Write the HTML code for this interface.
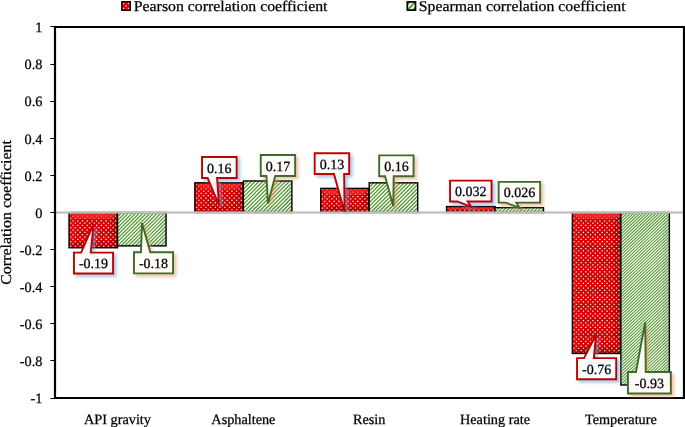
<!DOCTYPE html>
<html lang="en"><head><meta charset="utf-8"><title>Correlation coefficients</title>
<style>html,body{margin:0;padding:0;background:#fff}body{width:685px;height:427px;overflow:hidden}svg{display:block}text{font-family:"Liberation Serif","Times New Roman",Times,serif;fill:#000;stroke:#000;stroke-width:0.25px;font-variant-ligatures:none;text-rendering:geometricPrecision}</style>
</head><body>
<svg width="685" height="427" viewBox="0 0 685 427">
<defs>
<filter id="gb" x="-5%" y="-5%" width="110%" height="110%"><feGaussianBlur stdDeviation="0.3"/></filter>
<filter id="blur" x="-40%" y="-40%" width="180%" height="180%"><feGaussianBlur stdDeviation="1.5"/></filter>
</defs>
<rect width="685" height="427" fill="#fff"/>
<rect x="121.8" y="1.7" width="8.6" height="8.6" fill="#d60000" stroke="#000" stroke-width="1.3"/>
<g fill="#fff"><rect x="123" y="3" width="1.2" height="1.2"/><rect x="127.8" y="3" width="1.2" height="1.2"/><rect x="125.4" y="5.4" width="1.3" height="1.3"/><rect x="123" y="7.8" width="1.2" height="1.2"/><rect x="127.8" y="7.8" width="1.2" height="1.2"/></g>
<text transform="translate(133.8,11.1) scale(1.068,1)" font-size="14.8">Pearson correlation coefficient</text>
<clipPath id="lg"><rect x="407.3" y="1.9" width="8.2" height="8.2"/></clipPath>
<rect x="407.3" y="1.9" width="8.2" height="8.2" fill="#5a9f36"/>
<path clip-path="url(#lg)" d="M404.0,10.6 L416.0,-1.4 M406.8,13.4 L418.8,1.4" stroke="#fff" stroke-width="1.9"/>
<rect x="407.3" y="1.9" width="8.2" height="8.2" fill="none" stroke="#000" stroke-width="1.7"/>
<text transform="translate(418.8,11.1) scale(1.068,1)" font-size="14.8">Spearman correlation coefficient</text>
<text transform="translate(11.4,212.4) rotate(-90) scale(1.066,1)" text-anchor="middle" font-size="15">Correlation coefficient</text>
<text x="42.4" y="32.2" text-anchor="end" font-size="14.3">1</text>
<rect x="50.4" y="26" width="4" height="1" fill="#000"/>
<text x="42.4" y="69.3" text-anchor="end" font-size="14.3">0.8</text>
<rect x="50.4" y="64" width="4" height="1" fill="#000"/>
<text x="42.4" y="106.4" text-anchor="end" font-size="14.3">0.6</text>
<rect x="50.4" y="101" width="4" height="1" fill="#000"/>
<text x="42.4" y="143.5" text-anchor="end" font-size="14.3">0.4</text>
<rect x="50.4" y="138" width="4" height="1" fill="#000"/>
<text x="42.4" y="180.6" text-anchor="end" font-size="14.3">0.2</text>
<rect x="50.4" y="175" width="4" height="1" fill="#000"/>
<text x="42.4" y="217.7" text-anchor="end" font-size="14.3">0</text>
<rect x="50.4" y="212" width="4" height="1" fill="#000"/>
<text x="42.4" y="254.8" text-anchor="end" font-size="14.3">-0.2</text>
<rect x="50.4" y="249" width="4" height="1" fill="#000"/>
<text x="42.4" y="291.9" text-anchor="end" font-size="14.3">-0.4</text>
<rect x="50.4" y="286" width="4" height="1" fill="#000"/>
<text x="42.4" y="329.0" text-anchor="end" font-size="14.3">-0.6</text>
<rect x="50.4" y="323" width="4" height="1" fill="#000"/>
<text x="42.4" y="366.1" text-anchor="end" font-size="14.3">-0.8</text>
<rect x="50.4" y="360" width="4" height="1" fill="#000"/>
<text x="42.4" y="403.2" text-anchor="end" font-size="14.3">-1</text>
<rect x="50.4" y="398" width="4" height="1" fill="#000"/>
<clipPath id="c00"><rect x="69.05" y="212.50" width="48.5" height="35.25"/></clipPath>
<rect x="69.05" y="212.50" width="48.5" height="35.25" fill="#d60000"/>
<g clip-path="url(#c00)"><g stroke="#fff" stroke-width="1.25" stroke-dasharray="1.25 3.47" fill="none" filter="url(#gb)"><path d="M65.33,213.80H122.27" /><path d="M67.69,216.12H122.27" /><path d="M65.33,218.44H122.27" /><path d="M67.69,220.76H122.27" /><path d="M65.33,223.08H122.27" /><path d="M67.69,225.40H122.27" /><path d="M65.33,227.72H122.27" /><path d="M67.69,230.04H122.27" /><path d="M65.33,232.36H122.27" /><path d="M67.69,234.68H122.27" /><path d="M65.33,237.00H122.27" /><path d="M67.69,239.32H122.27" /><path d="M65.33,241.64H122.27" /><path d="M67.69,243.96H122.27" /><path d="M65.33,246.28H122.27" /><path d="M67.69,248.60H122.27" /></g></g>
<path d="M69.05,212.50 L117.55,212.50 L111.05,219.00 L75.55,219.00 Z" fill="#ff2a2a" fill-opacity="0.62"/>
<path d="M69.05,212.50 L75.55,219.00 L75.55,241.25 L69.05,247.75 Z" fill="#ff2a2a" fill-opacity="0.186"/>
<path d="M117.55,212.50 L111.05,219.00 L111.05,241.25 L117.55,247.75 Z" fill="#000" fill-opacity="0.12"/>
<path d="M69.05,247.75 L117.55,247.75 L111.05,241.25 L75.55,241.25 Z" fill="#000" fill-opacity="0.12"/>
<rect x="69.05" y="212.50" width="48.5" height="35.25" fill="none" stroke="#000" stroke-width="1.4"/>
<clipPath id="c01"><rect x="117.55" y="212.50" width="48.5" height="33.39"/></clipPath>
<rect x="117.55" y="212.50" width="48.5" height="33.39" fill="#fff"/>
<path clip-path="url(#c01)" d="M81.36,245.89l33.39,-33.39M84.96,245.89l33.39,-33.39M88.56,245.89l33.39,-33.39M92.16,245.89l33.39,-33.39M95.76,245.89l33.39,-33.39M99.36,245.89l33.39,-33.39M102.96,245.89l33.39,-33.39M106.56,245.89l33.39,-33.39M110.16,245.89l33.39,-33.39M113.76,245.89l33.39,-33.39M117.36,245.89l33.39,-33.39M120.96,245.89l33.39,-33.39M124.56,245.89l33.39,-33.39M128.16,245.89l33.39,-33.39M131.76,245.89l33.39,-33.39M135.36,245.89l33.39,-33.39M138.96,245.89l33.39,-33.39M142.56,245.89l33.39,-33.39M146.16,245.89l33.39,-33.39M149.76,245.89l33.39,-33.39M153.36,245.89l33.39,-33.39M156.96,245.89l33.39,-33.39M160.56,245.89l33.39,-33.39M164.16,245.89l33.39,-33.39M167.76,245.89l33.39,-33.39" stroke="#559b31" stroke-width="1.196" fill="none"/>
<path d="M117.55,212.50 L166.05,212.50 L159.55,219.00 L124.05,219.00 Z" fill="#ff2a2a" fill-opacity="0.0"/>
<path d="M117.55,212.50 L124.05,219.00 L124.05,239.39 L117.55,245.89 Z" fill="#ff2a2a" fill-opacity="0.0"/>
<path d="M166.05,212.50 L159.55,219.00 L159.55,239.39 L166.05,245.89 Z" fill="#000" fill-opacity="0.05"/>
<path d="M117.55,245.89 L166.05,245.89 L159.55,239.39 L124.05,239.39 Z" fill="#000" fill-opacity="0.05"/>
<rect x="117.55" y="212.50" width="48.5" height="33.39" fill="none" stroke="#000" stroke-width="1.4"/>
<clipPath id="c10"><rect x="194.88" y="182.82" width="48.5" height="29.68"/></clipPath>
<rect x="194.88" y="182.82" width="48.5" height="29.68" fill="#d60000"/>
<g clip-path="url(#c10)"><g stroke="#fff" stroke-width="1.25" stroke-dasharray="1.25 3.47" fill="none" filter="url(#gb)"><path d="M191.16,184.12H248.10" /><path d="M193.52,186.44H248.10" /><path d="M191.16,188.76H248.10" /><path d="M193.52,191.08H248.10" /><path d="M191.16,193.40H248.10" /><path d="M193.52,195.72H248.10" /><path d="M191.16,198.04H248.10" /><path d="M193.52,200.36H248.10" /><path d="M191.16,202.68H248.10" /><path d="M193.52,205.00H248.10" /><path d="M191.16,207.32H248.10" /><path d="M193.52,209.64H248.10" /><path d="M191.16,211.96H248.10" /></g></g>
<path d="M194.88,182.82 L243.38,182.82 L236.88,189.32 L201.38,189.32 Z" fill="#ff2a2a" fill-opacity="0.62"/>
<path d="M194.88,182.82 L201.38,189.32 L201.38,206.00 L194.88,212.50 Z" fill="#ff2a2a" fill-opacity="0.186"/>
<path d="M243.38,182.82 L236.88,189.32 L236.88,206.00 L243.38,212.50 Z" fill="#000" fill-opacity="0.12"/>
<path d="M194.88,212.50 L243.38,212.50 L236.88,206.00 L201.38,206.00 Z" fill="#000" fill-opacity="0.12"/>
<rect x="194.88" y="182.82" width="48.5" height="29.68" fill="none" stroke="#000" stroke-width="1.4"/>
<clipPath id="c11"><rect x="243.38" y="180.97" width="48.5" height="31.53"/></clipPath>
<rect x="243.38" y="180.97" width="48.5" height="31.53" fill="#fff"/>
<path clip-path="url(#c11)" d="M208.84,212.50l31.53,-31.53M212.65,212.50l31.53,-31.53M216.45,212.50l31.53,-31.53M220.25,212.50l31.53,-31.53M224.05,212.50l31.53,-31.53M227.85,212.50l31.53,-31.53M231.65,212.50l31.53,-31.53M235.45,212.50l31.53,-31.53M239.25,212.50l31.53,-31.53M243.05,212.50l31.53,-31.53M246.85,212.50l31.53,-31.53M250.65,212.50l31.53,-31.53M254.45,212.50l31.53,-31.53M258.25,212.50l31.53,-31.53M262.05,212.50l31.53,-31.53M265.85,212.50l31.53,-31.53M269.65,212.50l31.53,-31.53M273.45,212.50l31.53,-31.53M277.25,212.50l31.53,-31.53M281.05,212.50l31.53,-31.53M284.85,212.50l31.53,-31.53M288.65,212.50l31.53,-31.53M292.45,212.50l31.53,-31.53" stroke="#559b31" stroke-width="1.263" fill="none"/>
<path d="M243.38,180.97 L291.88,180.97 L285.38,187.47 L249.88,187.47 Z" fill="#ff2a2a" fill-opacity="0.0"/>
<path d="M243.38,180.97 L249.88,187.47 L249.88,206.00 L243.38,212.50 Z" fill="#ff2a2a" fill-opacity="0.0"/>
<path d="M291.88,180.97 L285.38,187.47 L285.38,206.00 L291.88,212.50 Z" fill="#000" fill-opacity="0.05"/>
<path d="M243.38,212.50 L291.88,212.50 L285.38,206.00 L249.88,206.00 Z" fill="#000" fill-opacity="0.05"/>
<rect x="243.38" y="180.97" width="48.5" height="31.53" fill="none" stroke="#000" stroke-width="1.4"/>
<clipPath id="c20"><rect x="320.71" y="188.38" width="48.5" height="24.12"/></clipPath>
<rect x="320.71" y="188.38" width="48.5" height="24.12" fill="#d60000"/>
<g clip-path="url(#c20)"><g stroke="#fff" stroke-width="1.25" stroke-dasharray="1.25 3.47" fill="none" filter="url(#gb)"><path d="M316.99,189.69H373.93" /><path d="M319.35,192.00H373.93" /><path d="M316.99,194.32H373.93" /><path d="M319.35,196.64H373.93" /><path d="M316.99,198.96H373.93" /><path d="M319.35,201.28H373.93" /><path d="M316.99,203.60H373.93" /><path d="M319.35,205.92H373.93" /><path d="M316.99,208.24H373.93" /><path d="M319.35,210.56H373.93" /><path d="M316.99,212.88H373.93" /></g></g>
<path d="M320.71,188.38 L369.21,188.38 L362.71,194.88 L327.21,194.88 Z" fill="#ff2a2a" fill-opacity="0.62"/>
<path d="M320.71,188.38 L327.21,194.88 L327.21,206.00 L320.71,212.50 Z" fill="#ff2a2a" fill-opacity="0.186"/>
<path d="M369.21,188.38 L362.71,194.88 L362.71,206.00 L369.21,212.50 Z" fill="#000" fill-opacity="0.12"/>
<path d="M320.71,212.50 L369.21,212.50 L362.71,206.00 L327.21,206.00 Z" fill="#000" fill-opacity="0.12"/>
<rect x="320.71" y="188.38" width="48.5" height="24.12" fill="none" stroke="#000" stroke-width="1.4"/>
<clipPath id="c21"><rect x="369.21" y="182.82" width="48.5" height="29.68"/></clipPath>
<rect x="369.21" y="182.82" width="48.5" height="29.68" fill="#fff"/>
<path clip-path="url(#c21)" d="M336.53,212.50l29.68,-29.68M340.33,212.50l29.68,-29.68M344.13,212.50l29.68,-29.68M347.93,212.50l29.68,-29.68M351.73,212.50l29.68,-29.68M355.53,212.50l29.68,-29.68M359.33,212.50l29.68,-29.68M363.13,212.50l29.68,-29.68M366.93,212.50l29.68,-29.68M370.73,212.50l29.68,-29.68M374.53,212.50l29.68,-29.68M378.33,212.50l29.68,-29.68M382.13,212.50l29.68,-29.68M385.93,212.50l29.68,-29.68M389.73,212.50l29.68,-29.68M393.53,212.50l29.68,-29.68M397.33,212.50l29.68,-29.68M401.13,212.50l29.68,-29.68M404.93,212.50l29.68,-29.68M408.73,212.50l29.68,-29.68M412.53,212.50l29.68,-29.68M416.33,212.50l29.68,-29.68M420.13,212.50l29.68,-29.68" stroke="#559b31" stroke-width="1.263" fill="none"/>
<path d="M369.21,182.82 L417.71,182.82 L411.21,189.32 L375.71,189.32 Z" fill="#ff2a2a" fill-opacity="0.0"/>
<path d="M369.21,182.82 L375.71,189.32 L375.71,206.00 L369.21,212.50 Z" fill="#ff2a2a" fill-opacity="0.0"/>
<path d="M417.71,182.82 L411.21,189.32 L411.21,206.00 L417.71,212.50 Z" fill="#000" fill-opacity="0.05"/>
<path d="M369.21,212.50 L417.71,212.50 L411.21,206.00 L375.71,206.00 Z" fill="#000" fill-opacity="0.05"/>
<rect x="369.21" y="182.82" width="48.5" height="29.68" fill="none" stroke="#000" stroke-width="1.4"/>
<clipPath id="c30"><rect x="446.54" y="206.56" width="48.5" height="5.94"/></clipPath>
<rect x="446.54" y="206.56" width="48.5" height="5.94" fill="#d60000"/>
<g clip-path="url(#c30)"><g stroke="#fff" stroke-width="1.25" stroke-dasharray="1.25 3.47" fill="none" filter="url(#gb)"><path d="M442.82,207.86H499.76" /><path d="M445.18,210.18H499.76" /><path d="M442.82,212.50H499.76" /></g></g>
<path d="M446.54,206.56 L495.04,206.56 L492.07,209.53 L449.51,209.53 Z" fill="#ff2a2a" fill-opacity="0.62"/>
<path d="M446.54,206.56 L449.51,209.53 L449.51,209.53 L446.54,212.50 Z" fill="#ff2a2a" fill-opacity="0.186"/>
<path d="M495.04,206.56 L492.07,209.53 L492.07,209.53 L495.04,212.50 Z" fill="#000" fill-opacity="0.12"/>
<path d="M446.54,212.50 L495.04,212.50 L492.07,209.53 L449.51,209.53 Z" fill="#000" fill-opacity="0.12"/>
<rect x="446.54" y="206.56" width="48.5" height="5.94" fill="none" stroke="#000" stroke-width="1.4"/>
<clipPath id="c31"><rect x="495.04" y="207.68" width="48.5" height="4.82"/></clipPath>
<rect x="495.04" y="207.68" width="48.5" height="4.82" fill="#fff"/>
<path clip-path="url(#c31)" d="M487.52,212.50l4.82,-4.82M491.02,212.50l4.82,-4.82M494.52,212.50l4.82,-4.82M498.02,212.50l4.82,-4.82M501.52,212.50l4.82,-4.82M505.02,212.50l4.82,-4.82M508.52,212.50l4.82,-4.82M512.02,212.50l4.82,-4.82M515.52,212.50l4.82,-4.82M519.02,212.50l4.82,-4.82M522.52,212.50l4.82,-4.82M526.02,212.50l4.82,-4.82M529.52,212.50l4.82,-4.82M533.02,212.50l4.82,-4.82M536.52,212.50l4.82,-4.82M540.02,212.50l4.82,-4.82M543.52,212.50l4.82,-4.82M547.02,212.50l4.82,-4.82" stroke="#559b31" stroke-width="1.163" fill="none"/>
<path d="M495.04,207.68 L543.54,207.68 L541.13,210.09 L497.45,210.09 Z" fill="#ff2a2a" fill-opacity="0.0"/>
<path d="M495.04,207.68 L497.45,210.09 L497.45,210.09 L495.04,212.50 Z" fill="#ff2a2a" fill-opacity="0.0"/>
<path d="M543.54,207.68 L541.13,210.09 L541.13,210.09 L543.54,212.50 Z" fill="#000" fill-opacity="0.05"/>
<path d="M495.04,212.50 L543.54,212.50 L541.13,210.09 L497.45,210.09 Z" fill="#000" fill-opacity="0.05"/>
<rect x="495.04" y="207.68" width="48.5" height="4.82" fill="none" stroke="#000" stroke-width="1.4"/>
<clipPath id="c40"><rect x="572.37" y="212.50" width="48.5" height="140.98"/></clipPath>
<rect x="572.37" y="212.50" width="48.5" height="140.98" fill="#d60000"/>
<g clip-path="url(#c40)"><g stroke="#fff" stroke-width="1.25" stroke-dasharray="1.25 3.47" fill="none" filter="url(#gb)"><path d="M568.65,213.80H625.59" /><path d="M571.01,216.12H625.59" /><path d="M568.65,218.44H625.59" /><path d="M571.01,220.76H625.59" /><path d="M568.65,223.08H625.59" /><path d="M571.01,225.40H625.59" /><path d="M568.65,227.72H625.59" /><path d="M571.01,230.04H625.59" /><path d="M568.65,232.36H625.59" /><path d="M571.01,234.68H625.59" /><path d="M568.65,237.00H625.59" /><path d="M571.01,239.32H625.59" /><path d="M568.65,241.64H625.59" /><path d="M571.01,243.96H625.59" /><path d="M568.65,246.28H625.59" /><path d="M571.01,248.60H625.59" /><path d="M568.65,250.92H625.59" /><path d="M571.01,253.24H625.59" /><path d="M568.65,255.56H625.59" /><path d="M571.01,257.88H625.59" /><path d="M568.65,260.20H625.59" /><path d="M571.01,262.52H625.59" /><path d="M568.65,264.84H625.59" /><path d="M571.01,267.16H625.59" /><path d="M568.65,269.48H625.59" /><path d="M571.01,271.80H625.59" /><path d="M568.65,274.12H625.59" /><path d="M571.01,276.44H625.59" /><path d="M568.65,278.76H625.59" /><path d="M571.01,281.08H625.59" /><path d="M568.65,283.40H625.59" /><path d="M571.01,285.72H625.59" /><path d="M568.65,288.04H625.59" /><path d="M571.01,290.36H625.59" /><path d="M568.65,292.68H625.59" /><path d="M571.01,295.00H625.59" /><path d="M568.65,297.32H625.59" /><path d="M571.01,299.64H625.59" /><path d="M568.65,301.96H625.59" /><path d="M571.01,304.28H625.59" /><path d="M568.65,306.60H625.59" /><path d="M571.01,308.92H625.59" /><path d="M568.65,311.24H625.59" /><path d="M571.01,313.56H625.59" /><path d="M568.65,315.88H625.59" /><path d="M571.01,318.20H625.59" /><path d="M568.65,320.52H625.59" /><path d="M571.01,322.84H625.59" /><path d="M568.65,325.16H625.59" /><path d="M571.01,327.48H625.59" /><path d="M568.65,329.80H625.59" /><path d="M571.01,332.12H625.59" /><path d="M568.65,334.44H625.59" /><path d="M571.01,336.76H625.59" /><path d="M568.65,339.08H625.59" /><path d="M571.01,341.40H625.59" /><path d="M568.65,343.72H625.59" /><path d="M571.01,346.04H625.59" /><path d="M568.65,348.36H625.59" /><path d="M571.01,350.68H625.59" /><path d="M568.65,353.00H625.59" /></g></g>
<path d="M572.37,212.50 L620.87,212.50 L614.37,219.00 L578.87,219.00 Z" fill="#ff2a2a" fill-opacity="0.62"/>
<path d="M572.37,212.50 L578.87,219.00 L578.87,346.98 L572.37,353.48 Z" fill="#ff2a2a" fill-opacity="0.186"/>
<path d="M620.87,212.50 L614.37,219.00 L614.37,346.98 L620.87,353.48 Z" fill="#000" fill-opacity="0.12"/>
<path d="M572.37,353.48 L620.87,353.48 L614.37,346.98 L578.87,346.98 Z" fill="#000" fill-opacity="0.12"/>
<rect x="572.37" y="212.50" width="48.5" height="140.98" fill="none" stroke="#000" stroke-width="1.4"/>
<clipPath id="c41"><rect x="620.87" y="212.50" width="48.5" height="172.51"/></clipPath>
<rect x="620.87" y="212.50" width="48.5" height="172.51" fill="#fff"/>
<path clip-path="url(#c41)" d="M434.45,385.01l184.02,-172.51M437.65,385.01l184.02,-172.51M440.85,385.01l184.02,-172.51M444.05,385.01l184.02,-172.51M447.25,385.01l184.02,-172.51M450.45,385.01l184.02,-172.51M453.65,385.01l184.02,-172.51M456.85,385.01l184.02,-172.51M460.05,385.01l184.02,-172.51M463.25,385.01l184.02,-172.51M466.45,385.01l184.02,-172.51M469.65,385.01l184.02,-172.51M472.85,385.01l184.02,-172.51M476.05,385.01l184.02,-172.51M479.25,385.01l184.02,-172.51M482.45,385.01l184.02,-172.51M485.65,385.01l184.02,-172.51M488.85,385.01l184.02,-172.51M492.05,385.01l184.02,-172.51M495.25,385.01l184.02,-172.51M498.45,385.01l184.02,-172.51M501.65,385.01l184.02,-172.51M504.85,385.01l184.02,-172.51M508.05,385.01l184.02,-172.51M511.25,385.01l184.02,-172.51M514.45,385.01l184.02,-172.51M517.65,385.01l184.02,-172.51M520.85,385.01l184.02,-172.51M524.05,385.01l184.02,-172.51M527.25,385.01l184.02,-172.51M530.45,385.01l184.02,-172.51M533.65,385.01l184.02,-172.51M536.85,385.01l184.02,-172.51M540.05,385.01l184.02,-172.51M543.25,385.01l184.02,-172.51M546.45,385.01l184.02,-172.51M549.65,385.01l184.02,-172.51M552.85,385.01l184.02,-172.51M556.05,385.01l184.02,-172.51M559.25,385.01l184.02,-172.51M562.45,385.01l184.02,-172.51M565.65,385.01l184.02,-172.51M568.85,385.01l184.02,-172.51M572.05,385.01l184.02,-172.51M575.25,385.01l184.02,-172.51M578.45,385.01l184.02,-172.51M581.65,385.01l184.02,-172.51M584.85,385.01l184.02,-172.51M588.05,385.01l184.02,-172.51M591.25,385.01l184.02,-172.51M594.45,385.01l184.02,-172.51M597.65,385.01l184.02,-172.51M600.85,385.01l184.02,-172.51M604.05,385.01l184.02,-172.51M607.25,385.01l184.02,-172.51M610.45,385.01l184.02,-172.51M613.65,385.01l184.02,-172.51M616.85,385.01l184.02,-172.51M620.05,385.01l184.02,-172.51M623.25,385.01l184.02,-172.51M626.45,385.01l184.02,-172.51M629.65,385.01l184.02,-172.51M632.85,385.01l184.02,-172.51M636.05,385.01l184.02,-172.51M639.25,385.01l184.02,-172.51M642.45,385.01l184.02,-172.51M645.65,385.01l184.02,-172.51M648.85,385.01l184.02,-172.51M652.05,385.01l184.02,-172.51M655.25,385.01l184.02,-172.51M658.45,385.01l184.02,-172.51M661.65,385.01l184.02,-172.51M664.85,385.01l184.02,-172.51M668.05,385.01l184.02,-172.51M671.25,385.01l184.02,-172.51" stroke="#559b31" stroke-width="1.029" fill="none"/>
<path d="M620.87,212.50 L669.37,212.50 L662.87,219.00 L627.37,219.00 Z" fill="#ff2a2a" fill-opacity="0.0"/>
<path d="M620.87,212.50 L627.37,219.00 L627.37,378.51 L620.87,385.01 Z" fill="#ff2a2a" fill-opacity="0.0"/>
<path d="M669.37,212.50 L662.87,219.00 L662.87,378.51 L669.37,385.01 Z" fill="#000" fill-opacity="0.05"/>
<path d="M620.87,385.01 L669.37,385.01 L662.87,378.51 L627.37,378.51 Z" fill="#000" fill-opacity="0.05"/>
<rect x="620.87" y="212.50" width="48.5" height="172.51" fill="none" stroke="#000" stroke-width="1.4"/>
<rect x="55" y="211.4" width="629" height="2.2" fill="#bfbfbf"/>
<path d="M55,27 H684 V398 H55 Z" fill="none" stroke="#000" stroke-width="2.2"/>
<text x="117.5" y="424.1" text-anchor="middle" font-size="14.25">API gravity</text>
<text x="243.4" y="424.1" text-anchor="middle" font-size="14.25">Asphaltene</text>
<text x="369.2" y="424.1" text-anchor="middle" font-size="14.25">Resin</text>
<text x="495.0" y="424.1" text-anchor="middle" font-size="14.25">Heating rate</text>
<text x="620.9" y="424.1" text-anchor="middle" font-size="14.25">Temperature</text>
<path d="M73.95,252.65 H81.15 L93.65,223.80 L90.75,252.65 H113.05 V273.55 H73.95 Z" transform="translate(2.6,2.6)" fill="#6fa3d8" fill-opacity="0.5" stroke="#6fa3d8" stroke-opacity="0.5" stroke-width="1.9" filter="url(#blur)"/>
<path d="M73.95,252.65 H81.15 L93.65,223.80 L90.75,252.65 H113.05 V273.55 H73.95 Z" fill="#fff" fill-opacity="0.93" stroke="#c00000" stroke-width="1.9" stroke-linejoin="miter"/>
<text x="93.50" y="268.10" text-anchor="middle" font-size="14">-0.19</text>
<path d="M133.95,252.25 H140.95 L142.00,223.10 L150.25,252.25 H173.05 V273.35 H133.95 Z" transform="translate(2.6,2.6)" fill="#f0a070" fill-opacity="0.5" stroke="#f0a070" stroke-opacity="0.5" stroke-width="1.9" filter="url(#blur)"/>
<path d="M133.95,252.25 H140.95 L142.00,223.10 L150.25,252.25 H173.05 V273.35 H133.95 Z" fill="#fff" fill-opacity="0.93" stroke="#3d6b28" stroke-width="1.9" stroke-linejoin="miter"/>
<text x="153.50" y="267.80" text-anchor="middle" font-size="14">-0.18</text>
<path d="M202.05,157.05 H236.65 V177.95 H217.05 L219.00,205.00 L207.65,177.95 H202.05 Z" transform="translate(2.6,2.6)" fill="#6fa3d8" fill-opacity="0.5" stroke="#6fa3d8" stroke-opacity="0.5" stroke-width="1.9" filter="url(#blur)"/>
<path d="M202.05,157.05 H236.65 V177.95 H217.05 L219.00,205.00 L207.65,177.95 H202.05 Z" fill="#fff" fill-opacity="0.93" stroke="#c00000" stroke-width="1.9" stroke-linejoin="miter"/>
<text x="219.35" y="172.50" text-anchor="middle" font-size="14">0.16</text>
<path d="M260.75,155.05 H295.15 V175.95 H275.25 L268.00,203.60 L266.45,175.95 H260.75 Z" transform="translate(2.6,2.6)" fill="#f0a070" fill-opacity="0.5" stroke="#f0a070" stroke-opacity="0.5" stroke-width="1.9" filter="url(#blur)"/>
<path d="M260.75,155.05 H295.15 V175.95 H275.25 L268.00,203.60 L266.45,175.95 H260.75 Z" fill="#fff" fill-opacity="0.93" stroke="#3d6b28" stroke-width="1.9" stroke-linejoin="miter"/>
<text x="277.95" y="170.50" text-anchor="middle" font-size="14">0.17</text>
<path d="M314.70,153.25 H349.15 V174.05 H344.15 L344.50,211.70 L333.95,174.05 H314.70 Z" transform="translate(2.6,2.6)" fill="#6fa3d8" fill-opacity="0.5" stroke="#6fa3d8" stroke-opacity="0.5" stroke-width="1.9" filter="url(#blur)"/>
<path d="M314.70,153.25 H349.15 V174.05 H344.15 L344.50,211.70 L333.95,174.05 H314.70 Z" fill="#fff" fill-opacity="0.93" stroke="#c00000" stroke-width="1.9" stroke-linejoin="miter"/>
<text x="331.93" y="168.65" text-anchor="middle" font-size="14">0.13</text>
<path d="M379.20,155.35 H413.55 V176.20 H393.65 L393.30,206.20 L385.05,176.20 H379.20 Z" transform="translate(2.6,2.6)" fill="#f0a070" fill-opacity="0.5" stroke="#f0a070" stroke-opacity="0.5" stroke-width="1.9" filter="url(#blur)"/>
<path d="M379.20,155.35 H413.55 V176.20 H393.65 L393.30,206.20 L385.05,176.20 H379.20 Z" fill="#fff" fill-opacity="0.93" stroke="#3d6b28" stroke-width="1.9" stroke-linejoin="miter"/>
<text x="396.38" y="170.78" text-anchor="middle" font-size="14">0.16</text>
<path d="M450.05,180.65 H491.55 V201.45 H467.65 L471.40,206.90 L457.35,201.45 H450.05 Z" transform="translate(2.6,2.6)" fill="#6fa3d8" fill-opacity="0.5" stroke="#6fa3d8" stroke-opacity="0.5" stroke-width="1.9" filter="url(#blur)"/>
<path d="M450.05,180.65 H491.55 V201.45 H467.65 L471.40,206.90 L457.35,201.45 H450.05 Z" fill="#fff" fill-opacity="0.93" stroke="#c00000" stroke-width="1.9" stroke-linejoin="miter"/>
<text x="470.80" y="196.05" text-anchor="middle" font-size="14">0.032</text>
<path d="M498.65,181.85 H540.15 V202.65 H516.25 L519.50,207.80 L505.95,202.65 H498.65 Z" transform="translate(2.6,2.6)" fill="#f0a070" fill-opacity="0.5" stroke="#f0a070" stroke-opacity="0.5" stroke-width="1.9" filter="url(#blur)"/>
<path d="M498.65,181.85 H540.15 V202.65 H516.25 L519.50,207.80 L505.95,202.65 H498.65 Z" fill="#fff" fill-opacity="0.93" stroke="#3d6b28" stroke-width="1.9" stroke-linejoin="miter"/>
<text x="519.40" y="197.25" text-anchor="middle" font-size="14">0.026</text>
<path d="M577.05,358.15 H584.05 L596.00,334.70 L593.85,358.15 H616.20 V379.20 H577.05 Z" transform="translate(2.6,2.6)" fill="#6fa3d8" fill-opacity="0.5" stroke="#6fa3d8" stroke-opacity="0.5" stroke-width="1.9" filter="url(#blur)"/>
<path d="M577.05,358.15 H584.05 L596.00,334.70 L593.85,358.15 H616.20 V379.20 H577.05 Z" fill="#fff" fill-opacity="0.93" stroke="#c00000" stroke-width="1.9" stroke-linejoin="miter"/>
<text x="596.62" y="373.67" text-anchor="middle" font-size="14">-0.76</text>
<path d="M627.95,372.05 H635.95 L645.20,322.30 L645.75,372.05 H670.85 V393.55 H627.95 Z" transform="translate(2.6,2.6)" fill="#f0a070" fill-opacity="0.5" stroke="#f0a070" stroke-opacity="0.5" stroke-width="1.9" filter="url(#blur)"/>
<path d="M627.95,372.05 H635.95 L645.20,322.30 L645.75,372.05 H670.85 V393.55 H627.95 Z" fill="#fff" fill-opacity="0.93" stroke="#3d6b28" stroke-width="1.9" stroke-linejoin="miter"/>
<text x="649.40" y="387.80" text-anchor="middle" font-size="14">-0.93</text>
</svg></body></html>
